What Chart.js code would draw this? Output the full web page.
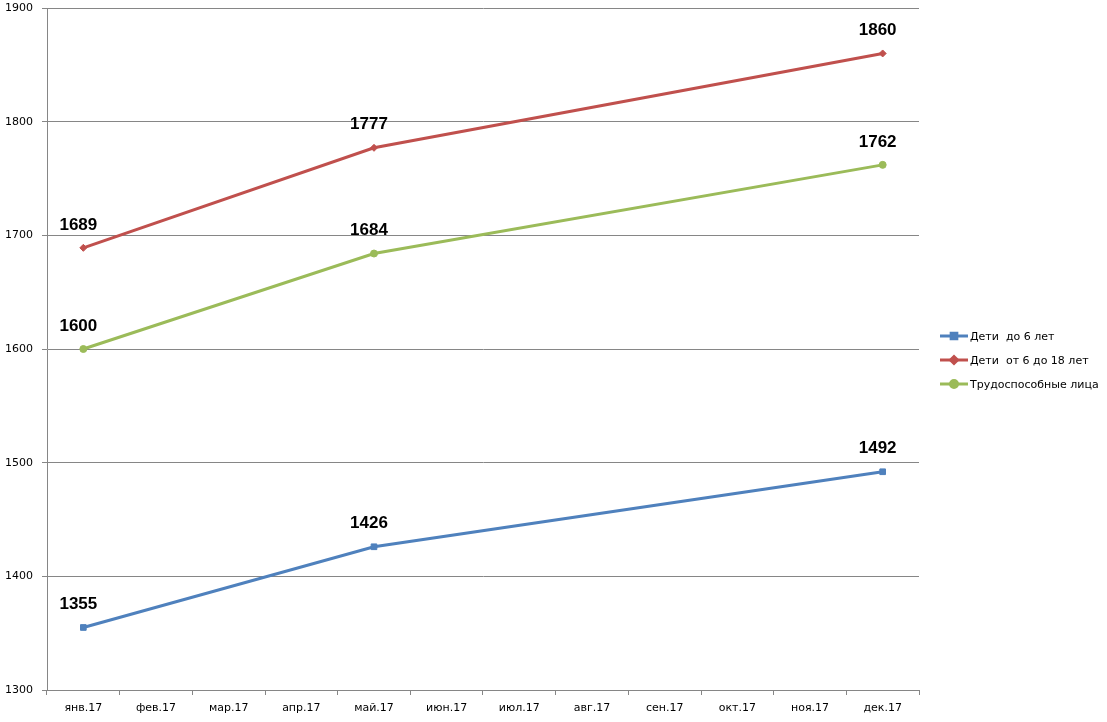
<!DOCTYPE html>
<html>
<head>
<meta charset="utf-8">
<script src="https://cdn.jsdelivr.net/npm/chart.js@4"></script>
<style>
  body { margin: 0; background: #fff; }
  #wrap { width: 1107px; height: 722px; }
</style>
</head>
<body>
<div id="wrap"><canvas id="grafico"></canvas></div>
<script>
// Данные с графика
const meses = ['янв.17', 'фев.17', 'мар.17', 'апр.17', 'май.17', 'июн.17', 'июл.17', 'авг.17', 'сен.17', 'окт.17', 'ноя.17', 'дек.17'];
const deti6 = [1355, null, null, null, 1426, null, null, null, null, null, null, 1492];
const deti6_18 = [1689, null, null, null, 1777, null, null, null, null, null, null, 1860];
const trudosp = [1600, null, null, null, 1684, null, null, null, null, null, null, 1762];
const series = ['Дети  до 6 лет', 'Дети  от 6 до 18 лет', 'Трудоспособные лица'];

const cores = ['#4F81BD', '#C0504D', '#9BBB59'];
const marcadores = ['rect', 'rectRot', 'circle'];
const raios = [4, 3.5, 3.5];

// rótulos de dados acima dos pontos
const rotulos = {
  id: 'rotulos',
  afterDatasetsDraw(chart) {
    const ctx = chart.ctx;
    ctx.save();
    ctx.font = 'bold 17px "Liberation Sans", Arial, sans-serif';
    ctx.fillStyle = '#000';
    ctx.textAlign = 'center';
    ctx.textBaseline = 'middle';
    chart.data.datasets.forEach((ds, i) => {
      chart.getDatasetMeta(i).data.forEach((pt, j) => {
        if (ds.data[j] == null) return;
        ctx.fillText(String(ds.data[j]), pt.x - 5, pt.y - 23);
      });
    });
    ctx.restore();
  }
};

// legenda à direita, estilo Excel
const legenda = {
  id: 'legenda',
  afterDraw(chart) {
    const ctx = chart.ctx;
    ctx.save();
    const x0 = 940, ys = [336, 360, 384];
    chart.data.datasets.forEach((ds, i) => {
      const y = ys[i];
      ctx.strokeStyle = cores[i];
      ctx.lineWidth = 3;
      ctx.beginPath();
      ctx.moveTo(x0, y);
      ctx.lineTo(x0 + 28, y);
      ctx.stroke();
      ctx.fillStyle = cores[i];
      Chart.helpers.drawPoint(ctx, {pointStyle: marcadores[i], radius: raios[i], borderWidth: 1}, x0 + 14, y);
      ctx.fillStyle = '#000';
      ctx.font = '11px "DejaVu Sans", sans-serif';
      ctx.textAlign = 'left';
      ctx.textBaseline = 'middle';
      ctx.fillText(ds.label, x0 + 30, y + 1);
    });
    ctx.restore();
  }
};

const ctx = document.getElementById('grafico').getContext('2d');
const dadosSerie = [deti6, deti6_18, trudosp];
new Chart(ctx, {
  type: 'line',
  data: {
    labels: meses,
    datasets: dadosSerie.map((d, i) => ({
      label: series[i],
      data: d,
      borderColor: cores[i],
      backgroundColor: cores[i],
      borderWidth: 3,
      pointStyle: marcadores[i],
      pointRadius: raios[i],
      pointBorderWidth: 1,
      spanGaps: true,
      tension: 0
    }))
  },
  options: {
    responsive: true,
    maintainAspectRatio: false,
    animation: false,
    layout: { padding: { top: 8, right: 188, left: 0, bottom: 0 } },
    plugins: {
      legend: { display: false },
      tooltip: { enabled: false }
    },
    scales: {
      x: {
        offset: true,
        grid: { display: true, drawOnChartArea: false, drawTicks: true, tickLength: 5, color: '#868686', offset: true },
        border: { color: '#868686', width: 1 },
        ticks: { color: '#000', font: { family: '"DejaVu Sans", sans-serif', size: 11 }, padding: 7, maxRotation: 0, autoSkip: false },
        afterFit(scale) { scale.height = 32; scale.paddingLeft = 0; scale.paddingRight = 0; }
      },
      y: {
        min: 1300,
        max: 1900,
        grid: { color: '#868686', tickLength: 5 },
        border: { color: '#868686', width: 1 },
        ticks: { stepSize: 100, color: '#000', font: { family: '"DejaVu Sans", sans-serif', size: 11 }, padding: 9,
                 callback: v => String(v) },
        afterFit(scale) { scale.width = 47; scale.paddingTop = 0; scale.paddingBottom = 0; }
      }
    }
  },
  plugins: [rotulos, legenda]
});
</script>
</body>
</html>
